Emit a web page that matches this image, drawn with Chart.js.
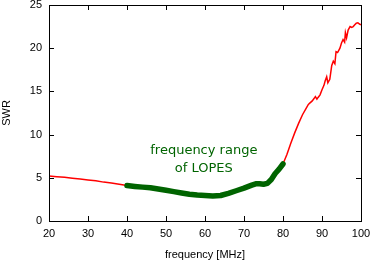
<!DOCTYPE html>
<html>
<head>
<meta charset="utf-8">
<script src="https://cdn.jsdelivr.net/npm/chart.js@4"></script>
<style>
  html, body { margin: 0; padding: 0; background: #fff; }
  #wrap { width: 374px; height: 262px; }
</style>
</head>
<body>
<div id="wrap"><canvas id="chart_swr"></canvas></div>
<script>
// frequency [MHz] and measured SWR
const freq = [20, 22, 24, 26, 28, 30, 32, 34, 36, 38, 40,
  42, 44, 46, 48, 50, 52, 54, 56, 58, 60, 62, 64, 66, 68, 70, 72, 73, 74, 75, 76, 77, 78, 79, 80,
  81, 82, 83, 84, 85, 86, 86.5, 87, 87.5, 88, 88.3, 88.7, 89, 89.5, 90, 90.5, 90.8, 91.2, 91.5, 92,
  92.5, 92.9, 93.3, 93.6, 94, 94.6, 95, 95.4, 95.8, 96, 96.3, 96.7, 97.2, 97.6, 98, 98.4, 98.8, 99.2, 99.6, 100];
const swr = [5.2, 5.12, 5.05, 4.95, 4.85, 4.75, 4.65, 4.5, 4.4, 4.25, 4.1,
  4.0, 3.92, 3.85, 3.7, 3.55, 3.4, 3.25, 3.1, 3.0, 2.95, 2.9, 2.95, 3.2, 3.5, 3.8, 4.15, 4.3, 4.3, 4.25, 4.35, 4.8, 5.5, 6.0, 6.6,
  7.7, 9.0, 10.2, 11.3, 12.3, 13.1, 13.5, 13.7, 13.9, 14.2, 14.4, 14.1, 14.3, 14.6, 15.2, 15.7, 16.2, 16.7, 16.0, 16.4,
  18.0, 18.5, 18.2, 19.6, 19.5, 20.0, 20.6, 21.0, 20.7, 21.8, 21.2, 22.1, 22.5, 22.4, 22.5, 22.7, 22.9, 22.95, 22.8, 22.7];
const lopesRange = [40, 80];
const xTicks = [20, 30, 40, 50, 60, 70, 80, 90, 100];
const yTicks = [0, 5, 10, 15, 20, 25];
const noteLines = ["frequency range", "of LOPES"];
const notePos = [[59.7, 8.1], [59.7, 6.1]];

const allPts = freq.map((f, i) => ({ x: f, y: swr[i] }));
const lopesPts = allPts.filter(p => p.x >= lopesRange[0] && p.x <= lopesRange[1]);

// gnuplot style frame with inward ticks on all four sides, plus the note
const framePlugin = {
  id: "frame",
  afterDatasetsDraw(chart) {
    const { ctx, chartArea: a, scales } = chart;
    ctx.save();
    ctx.strokeStyle = "#000";
    ctx.lineWidth = 1;
    ctx.beginPath();
    xTicks.forEach(v => {
      const px = Math.round(scales.x.getPixelForValue(v)) + 0.5;
      ctx.moveTo(px, a.bottom); ctx.lineTo(px, a.bottom - 5);
      ctx.moveTo(px, a.top); ctx.lineTo(px, a.top + 5);
    });
    yTicks.forEach(v => {
      const py = Math.round(scales.y.getPixelForValue(v)) + 0.5;
      ctx.moveTo(a.left, py); ctx.lineTo(a.left + 5, py);
      ctx.moveTo(a.right, py); ctx.lineTo(a.right - 5, py);
    });
    ctx.stroke();
    ctx.strokeRect(Math.round(a.left) + 0.5, Math.round(a.top) + 0.5,
      Math.round(a.right - a.left), Math.round(a.bottom - a.top));

    ctx.fillStyle = "#006400";
    ctx.font = "13px 'DejaVu Sans'";
    ctx.textAlign = "center";
    ctx.textBaseline = "middle";
    noteLines.forEach((t, i) => {
      ctx.fillText(t, scales.x.getPixelForValue(notePos[i][0]), scales.y.getPixelForValue(notePos[i][1]));
    });
    ctx.restore();
  }
};

const ct_swr = document.getElementById("chart_swr");

const config_swr = {
  type: "line",
  data: {
    datasets: [
      {
        label: "LOPES",
        data: lopesPts,
        borderColor: "#006400",
        borderWidth: 5.5,
        borderCapStyle: "round",
        borderJoinStyle: "round",
        pointRadius: 0,
        tension: 0,
      },
      {
        label: "SWR",
        data: allPts,
        borderColor: "#ff0000",
        borderWidth: 1.5,
        pointRadius: 0,
        tension: 0,
      },
    ],
  },
  options: {
    responsive: true,
    maintainAspectRatio: false,
    animation: false,
    layout: { padding: { top: 5, right: 13, left: 0, bottom: 0 } },
    plugins: {
      legend: { display: false },
      tooltip: { enabled: false },
    },
    scales: {
      x: {
        type: "linear",
        min: 20,
        max: 100,
        afterBuildTicks: s => { s.ticks = xTicks.map(v => ({ value: v })); },
        afterFit: s => { s.height = 41; s.paddingLeft = 0; s.paddingRight = 0; },
        grid: { display: false, drawTicks: false },
        border: { display: false },
        ticks: { color: "#000", padding: 6, maxRotation: 0, font: { family: "'Liberation Sans'", size: 11 } },
        title: {
          display: true,
          text: "frequency [MHz]",
          color: "#000",
          padding: { top: 3, bottom: 0 },
          font: { family: "'Liberation Sans'", size: 11 },
        },
      },
      y: {
        min: 0,
        max: 25,
        afterBuildTicks: s => { s.ticks = yTicks.map(v => ({ value: v })); },
        afterFit: s => { s.width = 49; s.paddingTop = 0; s.paddingBottom = 0; },
        grid: { display: false, drawTicks: false },
        border: { display: false },
        ticks: { color: "#000", padding: 7, font: { family: "'Liberation Sans'", size: 11 } },
        title: {
          display: true,
          text: "SWR",
          color: "#000",
          padding: { top: 0, bottom: 0 },
          font: { family: "'Liberation Sans'", size: 11 },
        },
      },
    },
  },
  plugins: [framePlugin],
};

new Chart(ct_swr, config_swr);
</script>
</body>
</html>
